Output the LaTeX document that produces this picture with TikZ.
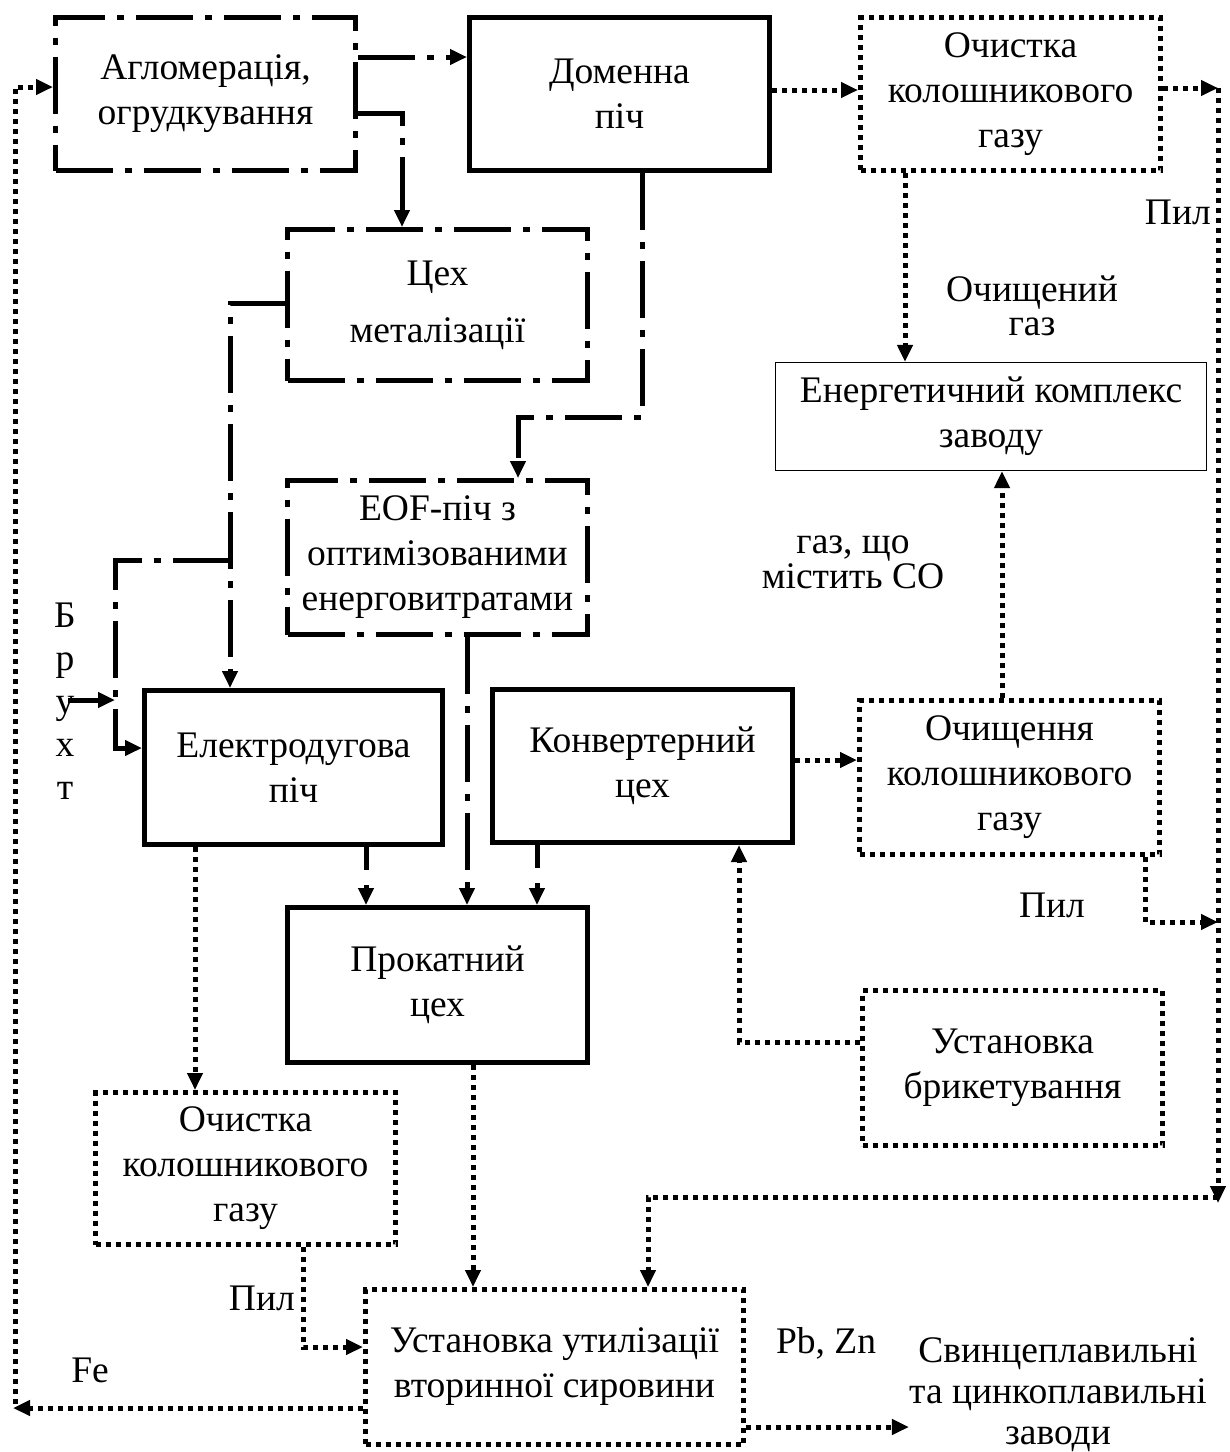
\documentclass[tikz,border=0pt]{standalone}
\usepackage{fontspec}
\setmainfont{Liberation Serif}
\usetikzlibrary{arrows.meta}
\begin{document}
\begin{tikzpicture}[x=1pt,y=-1pt,
  dd/.style={line width=5pt, dash pattern=on 57pt off 12pt on 7pt off 12pt},
  dt/.style={line width=5pt, dash pattern=on 5pt off 5pt},
  sol/.style={line width=5pt},
  shortdash/.style={line width=5pt, dash pattern=on 23pt off 15pt},
  arr/.style={-{Triangle[length=17pt,width=15pt]}},
  box/.style={draw, line width=5pt, minimum width=300pt, minimum height=153pt, align=center, inner sep=0pt, font=\fontsize{37.5}{45}\selectfont},
  ddbox/.style={box, dash pattern=on 57pt off 12pt on 7pt off 12pt},
  dtbox/.style={box, dash pattern=on 5pt off 5pt},
  lbl/.style={align=center, inner sep=0pt, font=\fontsize{37.5}{45}\selectfont}]
\useasboundingbox (0,0) rectangle (1230,1452);
\fill[white] (0,0) rectangle (1230,1452);

% boxes
\node[ddbox] (aglo) at (205.5,94) {Агломерація,\\огрудкування};
\node[box] (dom) at (619.5,94) {Доменна\\піч};
\node[dtbox] (och1) at (1010.5,94) {Очистка\\колошникового\\газу};
\node[ddbox, minimum height=151pt] (cex) at (437.5,305) {Цех\\[12pt]металізації};
\node[ddbox, minimum height=154pt] (eof) at (437.5,557.5) {EOF-піч з\\оптимізованими\\енерговитратами};
\node[box, minimum width=298pt, minimum height=154pt] (elec) at (293.5,767.5) {Електродугова\\піч};
\node[box] (konv) at (642.5,766) {Конвертерний\\цех};
\node[dtbox, minimum height=154pt] (och2) at (1009.5,777.5) {Очищення\\колошникового\\газу};
\node[box, line width=1.3pt, minimum width=431pt, minimum height=108pt] (energ) at (991,416.5) {Енергетичний комплекс\\заводу};
\node[box, minimum height=155pt] (prok) at (437.5,985) {Прокатний\\цех};
\node[dtbox, minimum height=155pt] (bryk) at (1012.5,1068) {Установка\\брикетування};
\node[dtbox, minimum height=152pt] (och3) at (245.5,1168.5) {Очистка\\колошникового\\газу};
\node[dtbox, minimum width=378pt, minimum height=155pt] (util) at (554.5,1367) {Установка утилізації\\вторинної сировини};
\node[lbl, font=\fontsize{37.5}{41}\selectfont] (zav) at (1058,1395) {Свинцеплавильні\\та цинкоплавильні\\заводи};

% labels
\node[lbl, anchor=east] (pil1) at (1211,212) {Пил};
\node[lbl, font=\fontsize{37.5}{34}\selectfont] (ochg) at (1032,306) {Очищений\\газ};
\node[lbl, font=\fontsize{37.5}{35}\selectfont] (gazco) at (853,562) {газ, що\\містить CO};
\node[lbl] (pil2) at (1052,905) {Пил};
\node[lbl, anchor=east] (pil3) at (295,1298) {Пил};
\node[lbl] (fe) at (90,1370) {Fe};
\node[lbl] (pbzn) at (826,1343) {Pb, Zn};
\node[lbl, font=\fontsize{37.5}{43}\selectfont] (bruxt) at (65,701) {Б\\р\\у\\х\\т};

% named free points
\coordinate (br) at (230,560);
\coordinate (bin) at (68,700);
\coordinate (bline) at (115,700);
\coordinate (rtop) at (1218,88);
\coordinate (rbot) at (1218,1203);
\coordinate (rjoin) at (1218,1197);
\coordinate (rmid) at (1218,922);
\coordinate (lbot) at (13,1408);
\coordinate (lstart) at (15,1404);

% dash-dot connectors
\draw[dd,arr] (aglo.east |- 0,57) -- (dom.west |- 0,57);
\draw[dd,arr] (aglo.east |- 0,113) -| (402,0 |- cex.north);
\draw[dd,arr] (dom.south -| 642,0) -- (642,417) -| (518,0 |- eof.north);
\draw[dd,arr] (cex.west |- 0,303) -| (230,0 |- elec.north);
\draw[dd,arr] (br) -- (115,560) -- (115,748) -- (elec.west |- 0,748);
\draw[dd,arr] (eof.south -| 467,0) -- (467,0 |- prok.north);

% solid connectors
\draw[sol,arr] (bin) -- (bline);
\draw[shortdash,arr] (elec.south -| 366,0) -- (366,0 |- prok.north);
\draw[shortdash,arr] (konv.south -| 537,0) -- (537,0 |- prok.north);

% dotted connectors
\draw[dt,arr] (dom.east |- 0,90) -- (och1.west |- 0,90);
\draw[dt,arr] (och1.east |- 0,88) -- (rtop);
\draw[dt,arr] (rtop) -- (rbot);
\draw[dt,arr] (rjoin) -| (648,0 |- util.north);
\draw[dt,arr] (och1.south -| 905,0) -- (905,0 |- energ.north);
\draw[dt,arr] (och2.north -| 1002,0) -- (1002,0 |- energ.south);
\draw[dt,arr] (konv.east |- 0,760) -- (och2.west |- 0,760);
\draw[dt,arr] (och2.south -| 1145,0) |- (rmid);
\draw[dt,arr] (bryk.west |- 0,1042) -| (739,0 |- konv.south);
\draw[dt,arr] (elec.south -| 195,0) -- (195,0 |- och3.north);
\draw[dt,arr] (prok.south -| 473,0) -- (473,0 |- util.north);
\draw[dt,arr] (och3.south -| 303,0) |- (util.west |- 0,1347);
\draw[dt,arr] (util.west |- 0,1408) -- (lbot);
\draw[dt,arr] (lstart) -- (15,87) -- (aglo.west |- 0,87);
\draw[dt,arr] (util.east |- 0,1427) -- (zav.west |- 0,1427);
\end{tikzpicture}
\end{document}
